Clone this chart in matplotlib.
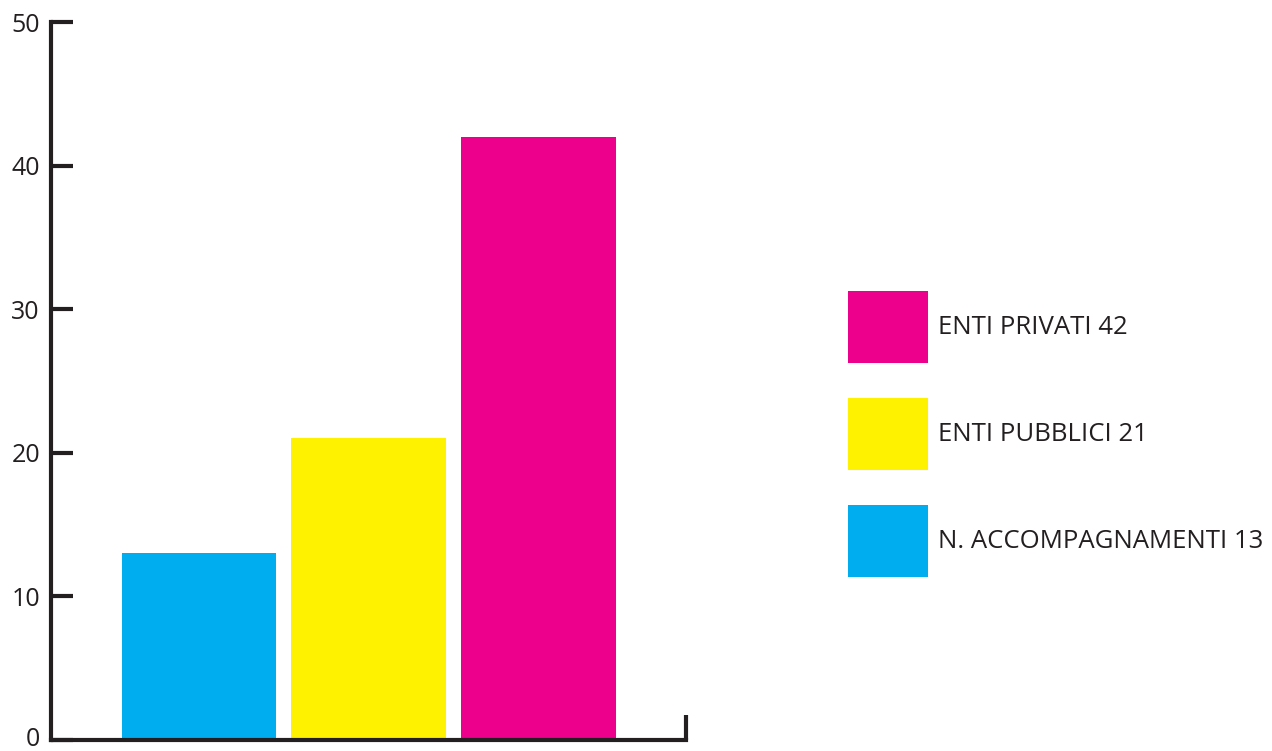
import matplotlib.pyplot as plt
from matplotlib.transforms import ScaledTranslation

# valori
categorie = ["N. ACCOMPAGNAMENTI", "ENTI PUBBLICI", "ENTI PRIVATI"]
valori = [13, 21, 42]
colori = ["#00AEEF", "#FFF200", "#EC008C"]
yticks = [0, 10, 20, 30, 40, 50]

plt.rcParams["font.family"] = ["Open Sans", "DejaVu Sans"]
ink = "#231F20"

fig = plt.figure(figsize=(12.72, 7.51), dpi=100)
ax = fig.add_axes([51 / 1272, 1 - 740 / 751, (686 - 51) / 1272, (740 - 22) / 751])

x = list(range(len(valori)))
bars = ax.bar(x, valori, width=0.91, color=colori, zorder=1)

x_right = 2.87
ax.set_xlim(-0.872, x_right)
ax.set_ylim(0, 50)

for s in ["top", "right"]:
    ax.spines[s].set_visible(False)
for s in ["left", "bottom"]:
    ax.spines[s].set_linewidth(3)
    ax.spines[s].set_color(ink)
    ax.spines[s].set_zorder(3)

ax.set_yticks(yticks)
ax.set_yticklabels([str(t) for t in yticks], fontsize=18, color=ink)
ax.tick_params(axis="y", direction="in", length=16, width=3, color=ink, pad=8)

# alza di poco lo "0" per non tagliarlo sul bordo
lab0 = ax.get_yticklabels()[0]
lab0.set_transform(lab0.get_transform() + ScaledTranslation(0, 3 / 100, fig.dpi_scale_trans))

# segno di chiusura sull'asse x
ax.set_xticks([x_right])
ax.set_xticklabels([""])
ax.tick_params(axis="x", direction="in", length=18, width=3, color=ink)

handles = [bars[2], bars[1], bars[0]]
labels = [f"{categorie[i]} {valori[i]}" for i in (2, 1, 0)]
fig.legend(handles, labels, loc="upper left",
           bbox_to_anchor=(848 / 1272, 1 - 291 / 751),
           frameon=False, fontsize=18.5, borderpad=0, borderaxespad=0,
           handlelength=3.11, handleheight=3.93, handletextpad=0.39,
           labelspacing=1.36, labelcolor=ink)

fig.savefig("out.png", dpi=100)
